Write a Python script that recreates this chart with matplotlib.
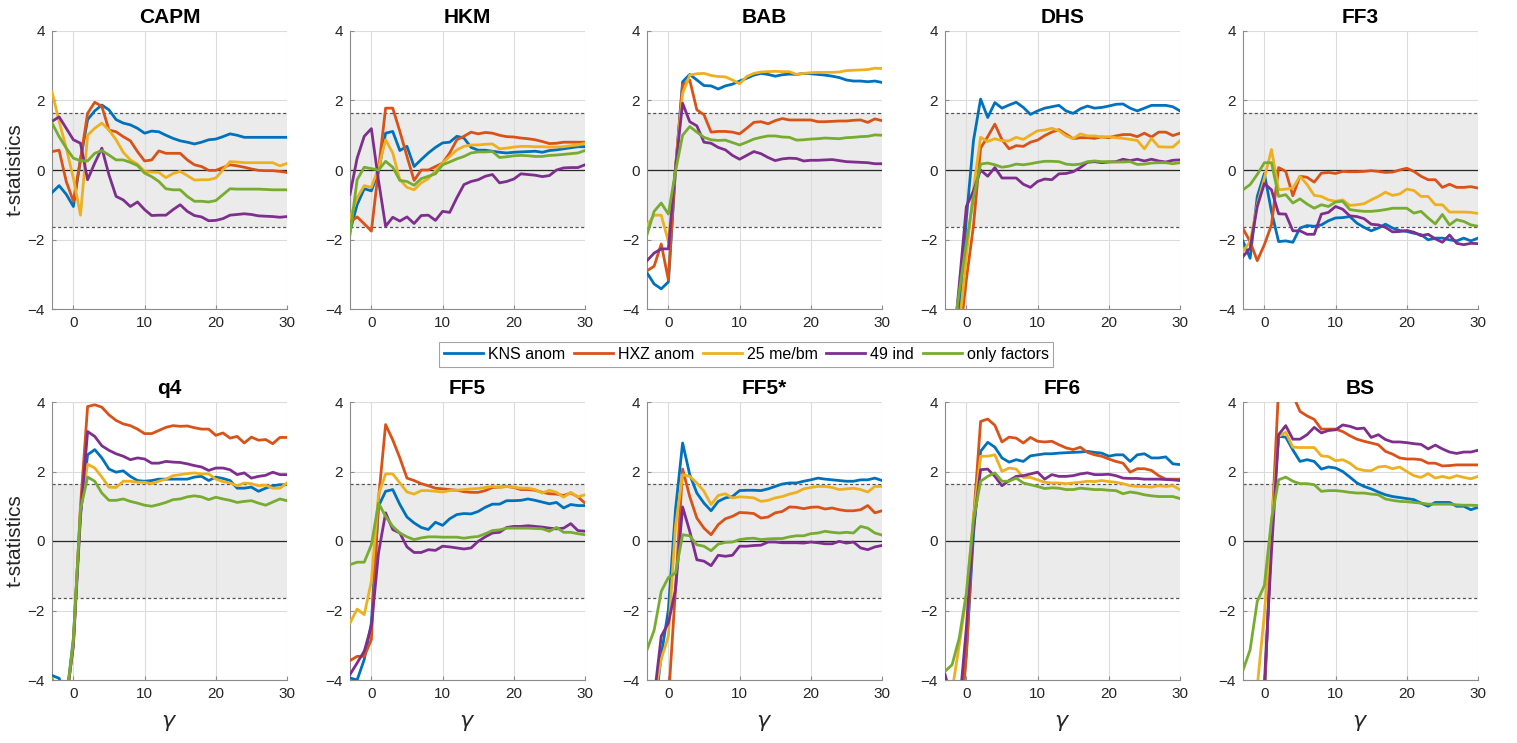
# -*- coding: utf-8 -*-
"""
t-statistics across gamma for ten factor models, five test-asset sets each.
Shaded band = +/-1.645 (10% two-sided).
"""

import numpy as np
import matplotlib
matplotlib.use("Agg")
import matplotlib.pyplot as plt

plt.rcParams['font.family'] = ['Liberation Sans', 'DejaVu Sans']

gamma = list(range(-3, 31))

series_names = ["KNS anom", "HXZ anom", "25 me/bm", "49 ind", "only factors"]
colors = ["#0072BD", "#D95319", "#EDB120", "#7E2F8E", "#77AC30"]
panel_titles = ["CAPM", "HKM", "BAB", "DHS", "FF3", "q4", "FF5", "FF5*", "FF6", "BS"]

# ---- CAPM
capm_kns = [-0.65, -0.45, -0.7, -1.05, 0.3, 1.45, 1.7, 1.87, 1.73, 1.45, 1.35, 1.3, 1.2, 1.06,
            1.12, 1.1, 1.0, 0.91, 0.84, 0.8, 0.75, 0.8, 0.87, 0.89, 0.96, 1.04, 1.0, 0.94,
            0.94, 0.94, 0.94, 0.94, 0.94, 0.94]
capm_hxz = [0.53, 0.57, -0.33, -0.9, 0.3, 1.63, 1.95, 1.83, 1.15, 1.1, 0.96, 0.84, 0.53, 0.26,
            0.29, 0.55, 0.48, 0.48, 0.48, 0.29, 0.15, 0.1, -0.01, -0.01, 0.07, 0.15, 0.12, 0.08,
            0.03, -0.01, -0.02, -0.02, -0.04, -0.07]
capm_mebm = [2.25, 1.4, 0.63, -0.23, -1.3, 1.0, 1.2, 1.35, 1.15, 0.87, 0.51, 0.29, 0.17, -0.04,
             -0.06, -0.07, -0.22, -0.1, -0.04, -0.16, -0.29, -0.28, -0.28, -0.23, 0.0, 0.24,
             0.23, 0.21, 0.21, 0.21, 0.21, 0.21, 0.12, 0.19]
capm_ind = [1.4, 1.53, 1.2, 0.87, 0.77, -0.28, 0.2, 0.63, -0.14, -0.76, -0.86, -1.05, -0.92,
            -1.14, -1.31, -1.3, -1.3, -1.14, -1.0, -1.19, -1.31, -1.35, -1.46, -1.45, -1.4,
            -1.3, -1.28, -1.26, -1.28, -1.32, -1.33, -1.34, -1.36, -1.34]
capm_fac = [1.35, 0.96, 0.63, 0.34, 0.27, 0.26, 0.48, 0.56, 0.43, 0.29, 0.29, 0.22, 0.13, -0.09,
            -0.19, -0.33, -0.54, -0.57, -0.57, -0.76, -0.9, -0.9, -0.92, -0.88, -0.71, -0.54,
            -0.55, -0.55, -0.55, -0.55, -0.56, -0.57, -0.57, -0.57]

# ---- HKM
hkm_kns = [-1.76, -1.0, -0.54, -0.6, -0.04, 1.06, 1.11, 0.56, 0.68, 0.1, 0.3, 0.49, 0.65, 0.78,
           0.8, 0.97, 0.92, 0.65, 0.57, 0.57, 0.54, 0.51, 0.49, 0.51, 0.52, 0.53, 0.54, 0.51,
           0.56, 0.58, 0.61, 0.64, 0.67, 0.67]
hkm_hxz = [-1.5, -1.35, -1.55, -1.76, 0.0, 1.78, 1.78, 1.11, 0.39, -0.3, 0.0, 0.0, 0.1, 0.2,
           0.49, 0.87, 0.97, 1.09, 1.04, 1.08, 1.06, 1.0, 0.96, 0.95, 0.92, 0.9, 0.87, 0.82,
           0.76, 0.77, 0.8, 0.8, 0.8, 0.8]
hkm_mebm = [-1.38, -0.8, -0.45, -0.5, 0.06, 0.87, 0.49, -0.28, -0.5, -0.57, -0.37, -0.25, -0.02,
            0.2, 0.39, 0.58, 0.68, 0.72, 0.72, 0.74, 0.75, 0.61, 0.63, 0.66, 0.68, 0.68, 0.67,
            0.67, 0.66, 0.66, 0.67, 0.7, 0.72, 0.77]
hkm_ind = [-0.7, 0.34, 0.97, 1.19, -0.3, -1.62, -1.36, -1.47, -1.35, -1.54, -1.31, -1.3, -1.45,
           -1.19, -1.22, -0.8, -0.42, -0.33, -0.28, -0.18, -0.13, -0.37, -0.33, -0.26, -0.11,
           -0.13, -0.15, -0.19, -0.16, 0.0, 0.06, 0.07, 0.07, 0.15]
hkm_fac = [-1.86, -0.28, 0.08, 0.04, 0.0, 0.25, 0.08, -0.3, -0.33, -0.44, -0.25, -0.18, -0.11,
           0.15, 0.23, 0.32, 0.39, 0.49, 0.52, 0.52, 0.53, 0.36, 0.38, 0.41, 0.42, 0.41, 0.39,
           0.39, 0.42, 0.43, 0.45, 0.47, 0.49, 0.56]

# ---- BAB
bab_kns = [-2.96, -3.28, -3.42, -3.22, 0.0, 2.54, 2.75, 2.59, 2.43, 2.42, 2.33, 2.42, 2.47, 2.56,
           2.64, 2.73, 2.78, 2.75, 2.7, 2.74, 2.76, 2.75, 2.78, 2.77, 2.75, 2.73, 2.7, 2.66,
           2.59, 2.56, 2.56, 2.54, 2.56, 2.52]
bab_hxz = [-2.9, -2.77, -2.13, -3.16, 0.05, 2.45, 2.59, 1.73, 1.59, 1.09, 1.11, 1.11, 1.09, 1.04,
           1.2, 1.37, 1.39, 1.33, 1.42, 1.48, 1.44, 1.44, 1.44, 1.44, 1.39, 1.39, 1.4, 1.41,
           1.41, 1.43, 1.44, 1.37, 1.47, 1.42]
bab_mebm = [-1.6, -1.3, -1.3, -2.06, 0.05, 2.2, 2.73, 2.77, 2.78, 2.72, 2.69, 2.68, 2.59, 2.48,
            2.69, 2.78, 2.82, 2.83, 2.84, 2.83, 2.83, 2.75, 2.78, 2.8, 2.81, 2.81, 2.81, 2.82,
            2.86, 2.87, 2.88, 2.89, 2.93, 2.92]
bab_ind = [-2.61, -2.39, -2.27, -2.27, 0.05, 1.92, 1.39, 1.27, 0.8, 0.77, 0.65, 0.58, 0.42, 0.31,
           0.42, 0.53, 0.47, 0.36, 0.27, 0.32, 0.34, 0.33, 0.26, 0.28, 0.28, 0.29, 0.3, 0.27,
           0.24, 0.23, 0.22, 0.21, 0.18, 0.18]
bab_fac = [-1.86, -1.19, -0.95, -1.27, -0.04, 1.0, 1.25, 1.09, 0.94, 0.87, 0.85, 0.86, 0.79, 0.72,
           0.8, 0.89, 0.94, 0.98, 0.98, 0.95, 0.94, 0.86, 0.87, 0.89, 0.9, 0.92, 0.91, 0.9,
           0.93, 0.94, 0.96, 0.97, 1.01, 1.0]

# ---- DHS
dhs_kns = [-6.5, -5.5, -4.2, -1.4, 0.85, 2.04, 1.51, 1.94, 1.78, 1.87, 1.95, 1.8, 1.6, 1.7,
           1.78, 1.82, 1.86, 1.7, 1.63, 1.76, 1.84, 1.78, 1.8, 1.84, 1.89, 1.9, 1.78, 1.7,
           1.78, 1.86, 1.86, 1.86, 1.82, 1.7]
dhs_hxz = [-7.5, -6.5, -4.96, -3.15, -1.6, 0.63, 0.96, 1.32, 0.87, 0.61, 0.7, 0.68, 0.8, 0.86,
           0.99, 1.09, 1.16, 1.03, 0.9, 0.93, 0.93, 0.91, 0.95, 0.93, 0.98, 1.02, 1.02, 0.96,
           1.06, 0.95, 1.09, 1.09, 0.99, 1.06]
dhs_mebm = [-7.0, -6.0, -4.5, -2.5, -0.55, 0.94, 0.82, 0.9, 0.84, 0.84, 0.94, 0.88, 1.01, 1.13,
            1.15, 1.2, 1.13, 0.98, 0.9, 1.04, 0.98, 0.98, 0.95, 0.96, 0.93, 0.91, 0.88, 0.85,
            0.61, 0.91, 0.67, 0.66, 0.66, 0.84]
dhs_ind = [-7.0, -5.5, -3.3, -1.05, -0.6, 0.0, -0.18, 0.07, -0.23, -0.23, -0.23, -0.41, -0.5,
           -0.33, -0.26, -0.28, -0.11, -0.1, -0.05, 0.07, 0.22, 0.24, 0.21, 0.23, 0.24, 0.31,
           0.27, 0.31, 0.26, 0.31, 0.26, 0.23, 0.28, 0.29]
dhs_fac = [-7.0, -5.0, -3.5, -2.1, -0.8, 0.17, 0.2, 0.15, 0.08, 0.11, 0.17, 0.15, 0.18, 0.22,
           0.25, 0.25, 0.24, 0.17, 0.15, 0.17, 0.24, 0.26, 0.24, 0.24, 0.23, 0.23, 0.24, 0.16,
           0.17, 0.2, 0.21, 0.21, 0.18, 0.21]

# ---- FF3
ff3_kns = [-2.05, -2.54, -0.76, -0.1, -1.2, -2.06, -2.04, -2.08, -1.67, -1.6, -1.62, -1.58, -1.46,
           -1.38, -1.37, -1.34, -1.53, -1.65, -1.75, -1.67, -1.56, -1.67, -1.74, -1.77, -1.82,
           -1.86, -2.01, -1.96, -1.96, -2.01, -2.04, -1.96, -2.04, -1.96]
ff3_hxz = [-1.69, -2.06, -2.61, -2.15, -1.58, 0.07, -0.04, -0.74, -0.18, -0.21, -0.35, -0.09,
           -0.07, -0.1, -0.04, -0.05, -0.05, -0.04, -0.02, -0.04, -0.07, -0.06, 0.0, 0.05,
           -0.04, -0.18, -0.28, -0.28, -0.5, -0.41, -0.5, -0.5, -0.48, -0.52]
ff3_mebm = [-2.34, -2.06, -1.0, -0.23, 0.59, -0.57, -0.55, -0.52, -0.18, -0.42, -0.73, -0.76,
            -0.86, -0.9, -0.86, -1.02, -1.0, -0.97, -0.86, -0.76, -0.64, -0.73, -0.69, -0.55,
            -0.59, -0.76, -0.76, -1.0, -1.0, -1.21, -1.21, -1.21, -1.22, -1.25]
ff3_ind = [-2.49, -2.25, -1.05, -0.39, -0.57, -1.26, -1.27, -1.75, -1.75, -1.85, -1.85, -1.27,
           -1.22, -1.05, -1.13, -1.32, -1.34, -1.4, -1.56, -1.58, -1.65, -1.78, -1.77, -1.74,
           -1.79, -1.89, -1.85, -1.98, -2.08, -1.87, -2.11, -2.15, -2.11, -2.12]
ff3_fac = [-0.57, -0.42, -0.13, 0.21, 0.21, -0.76, -0.71, -0.95, -0.83, -0.98, -1.1, -1.0, -1.05,
           -0.92, -0.9, -1.14, -1.17, -1.19, -1.19, -1.17, -1.14, -1.1, -1.1, -1.1, -1.24,
           -1.19, -1.38, -1.55, -1.28, -1.58, -1.43, -1.48, -1.58, -1.62]

# ---- q4
q4_kns = [-3.87, -3.95, -4.6, -2.8, 0.8, 2.48, 2.63, 2.39, 2.07, 1.98, 2.02, 1.86, 1.74, 1.72,
          1.74, 1.78, 1.78, 1.78, 1.78, 1.78, 1.84, 1.86, 1.74, 1.84, 1.8, 1.74, 1.52, 1.52,
          1.55, 1.43, 1.52, 1.59, 1.62, 1.62]
q4_hxz = [-6.0, -5.5, -4.6, -3.0, 1.0, 3.87, 3.92, 3.85, 3.63, 3.47, 3.37, 3.32, 3.22, 3.09,
          3.09, 3.18, 3.27, 3.32, 3.3, 3.31, 3.26, 3.22, 3.22, 3.04, 3.11, 2.96, 3.01, 2.82,
          2.99, 2.9, 2.92, 2.8, 2.98, 2.98]
q4_mebm = [-6.0, -5.5, -4.6, -2.9, 0.9, 2.21, 2.1, 1.84, 1.55, 1.54, 1.72, 1.72, 1.69, 1.69,
           1.65, 1.72, 1.78, 1.88, 1.91, 1.94, 1.96, 1.93, 1.93, 1.78, 1.71, 1.67, 1.59, 1.67,
           1.65, 1.59, 1.61, 1.52, 1.52, 1.67]
q4_ind = [-6.0, -5.5, -4.6, -3.0, 0.7, 3.15, 3.01, 2.74, 2.61, 2.51, 2.44, 2.34, 2.39, 2.36,
          2.24, 2.24, 2.29, 2.27, 2.26, 2.22, 2.17, 2.13, 2.03, 2.1, 2.1, 2.05, 1.91, 1.96,
          1.81, 1.86, 1.89, 1.98, 1.91, 1.91]
q4_fac = [-3.95, -4.5, -4.6, -2.9, 0.9, 1.84, 1.72, 1.38, 1.17, 1.17, 1.21, 1.14, 1.09, 1.03,
          1.0, 1.05, 1.11, 1.19, 1.21, 1.27, 1.3, 1.27, 1.19, 1.26, 1.21, 1.17, 1.11, 1.14,
          1.16, 1.09, 1.03, 1.12, 1.21, 1.16]

# ---- FF5
ff5_kns = [-3.94, -4.0, -3.41, -2.36, 1.0, 1.43, 1.48, 1.05, 0.69, 0.52, 0.39, 0.33, 0.54, 0.45,
           0.64, 0.76, 0.79, 0.78, 0.85, 0.97, 1.06, 1.06, 1.16, 1.16, 1.17, 1.21, 1.17, 1.12,
           1.07, 1.11, 0.95, 1.05, 1.02, 1.02]
ff5_hxz = [-3.44, -3.32, -3.32, -2.84, 1.2, 3.35, 2.91, 2.39, 1.81, 1.74, 1.65, 1.59, 1.52, 1.5,
           1.48, 1.46, 1.42, 1.4, 1.4, 1.45, 1.54, 1.55, 1.57, 1.54, 1.48, 1.48, 1.46, 1.4,
           1.36, 1.35, 1.31, 1.38, 1.27, 1.09]
ff5_mebm = [-2.36, -1.96, -2.12, -1.16, 1.33, 1.93, 1.93, 1.67, 1.41, 1.35, 1.45, 1.45, 1.43,
            1.41, 1.45, 1.46, 1.48, 1.5, 1.51, 1.54, 1.57, 1.54, 1.57, 1.55, 1.52, 1.52, 1.48,
            1.38, 1.46, 1.4, 1.26, 1.4, 1.27, 1.33]
ff5_ind = [-3.84, -3.51, -3.17, -2.45, -0.35, 0.81, 0.33, 0.23, -0.17, -0.33, -0.33, -0.25, -0.27,
           -0.15, -0.17, -0.2, -0.23, -0.2, -0.01, 0.12, 0.23, 0.25, 0.39, 0.42, 0.42, 0.44,
           0.42, 0.4, 0.37, 0.35, 0.37, 0.5, 0.3, 0.28]
ff5_fac = [-0.68, -0.61, -0.61, -0.11, 1.09, 0.71, 0.42, 0.23, 0.12, 0.04, 0.09, 0.12, 0.12, 0.11,
           0.11, 0.11, 0.08, 0.11, 0.13, 0.21, 0.3, 0.32, 0.37, 0.37, 0.37, 0.37, 0.36, 0.35,
           0.28, 0.39, 0.25, 0.25, 0.21, 0.18]

# ---- FF5*
ff5s_kns = [-6.0, -5.0, -3.3, -1.98, 0.9, 2.82, 1.91, 1.38, 1.09, 0.87, 1.14, 1.24, 1.28, 1.45,
            1.46, 1.46, 1.45, 1.5, 1.57, 1.64, 1.67, 1.67, 1.72, 1.76, 1.81, 1.78, 1.76, 1.74,
            1.72, 1.72, 1.76, 1.76, 1.81, 1.74]
ff5s_hxz = [-7.0, -6.5, -6.0, -4.6, -1.4, 2.07, 1.28, 0.66, 0.37, 0.18, 0.47, 0.64, 0.71, 0.82,
            0.81, 0.79, 0.66, 0.69, 0.81, 0.85, 0.98, 0.97, 0.93, 0.97, 0.98, 0.92, 0.95, 0.9,
            0.87, 0.87, 0.9, 1.02, 0.81, 0.87]
ff5s_mebm = [-6.0, -4.5, -3.4, -2.74, 0.42, 1.91, 1.86, 1.67, 1.43, 1.05, 1.31, 1.36, 1.24, 1.27,
             1.26, 1.24, 1.14, 1.17, 1.24, 1.28, 1.35, 1.4, 1.5, 1.54, 1.57, 1.57, 1.54, 1.48,
             1.5, 1.52, 1.48, 1.41, 1.57, 1.57]
ff5s_ind = [-6.0, -4.5, -2.74, -2.36, -1.4, 0.98, 0.28, -0.54, -0.58, -0.71, -0.41, -0.44, -0.41,
            -0.15, -0.15, -0.13, -0.12, -0.03, -0.03, -0.05, -0.05, -0.05, -0.06, -0.03, -0.05,
            -0.08, -0.08, -0.01, -0.06, -0.03, -0.2, -0.25, -0.17, -0.13]
ff5s_fac = [-3.13, -2.57, -1.45, -1.05, -0.92, 0.18, 0.15, -0.11, -0.15, -0.28, -0.09, -0.04,
            -0.03, 0.04, 0.07, 0.08, 0.04, 0.06, 0.07, 0.07, 0.12, 0.15, 0.15, 0.21, 0.23, 0.28,
            0.25, 0.23, 0.25, 0.23, 0.42, 0.37, 0.23, 0.17]

# ---- FF6
ff6_kns = [-7.0, -6.0, -5.5, -3.2, 0.2, 2.58, 2.84, 2.7, 2.39, 2.27, 2.34, 2.29, 2.45, 2.48,
           2.51, 2.51, 2.53, 2.54, 2.55, 2.56, 2.58, 2.55, 2.53, 2.44, 2.48, 2.48, 2.29, 2.48,
           2.51, 2.39, 2.39, 2.42, 2.22, 2.2]
ff6_hxz = [-7.0, -6.0, -5.5, -3.3, 0.6, 3.44, 3.51, 3.33, 2.85, 2.99, 2.96, 2.82, 2.98, 2.87,
           2.85, 2.87, 2.77, 2.68, 2.63, 2.7, 2.55, 2.48, 2.44, 2.36, 2.29, 2.24, 1.98, 2.08,
           2.08, 2.03, 1.88, 1.78, 1.78, 1.78]
ff6_mebm = [-6.0, -4.3, -3.0, -1.6, 0.7, 2.44, 2.44, 2.48, 2.0, 2.1, 2.07, 1.83, 1.83, 1.76,
            1.69, 1.67, 1.67, 1.65, 1.67, 1.69, 1.72, 1.71, 1.74, 1.71, 1.69, 1.65, 1.59, 1.57,
            1.57, 1.55, 1.59, 1.57, 1.59, 1.48]
ff6_ind = [-3.84, -4.6, -4.8, -2.5, 0.4, 2.05, 2.07, 1.86, 1.59, 1.74, 1.86, 1.88, 1.93, 1.98,
           1.78, 1.91, 1.86, 1.86, 1.88, 1.93, 1.96, 1.91, 1.91, 1.92, 1.88, 1.81, 1.8, 1.8,
           1.78, 1.78, 1.78, 1.77, 1.76, 1.74]
ff6_fac = [-3.75, -3.56, -2.79, -1.5, 0.61, 1.72, 1.86, 1.96, 1.72, 1.72, 1.81, 1.67, 1.62, 1.57,
           1.51, 1.53, 1.52, 1.48, 1.48, 1.52, 1.5, 1.48, 1.48, 1.46, 1.45, 1.36, 1.41, 1.38,
           1.33, 1.3, 1.28, 1.28, 1.28, 1.22]

# ---- BS
bs_kns = [-8.0, -7.0, -6.0, -4.5, 0.3, 3.01, 2.99, 2.62, 2.29, 2.34, 2.29, 2.07, 2.13, 2.1,
          2.0, 1.84, 1.67, 1.57, 1.5, 1.41, 1.33, 1.28, 1.25, 1.22, 1.19, 1.09, 1.0, 1.11,
          1.11, 1.11, 1.0, 1.0, 0.9, 0.97]
bs_hxz = [-8.0, -7.0, -6.0, -4.5, 0.2, 4.4, 4.6, 4.2, 3.73, 3.6, 3.5, 3.22, 3.22, 3.22,
          3.15, 3.03, 2.93, 2.87, 2.82, 2.77, 2.58, 2.5, 2.39, 2.36, 2.36, 2.34, 2.24, 2.24,
          2.16, 2.17, 2.19, 2.19, 2.19, 2.19]
bs_mebm = [-7.0, -6.0, -4.2, -2.1, 0.5, 3.01, 3.13, 2.7, 2.69, 2.69, 2.69, 2.45, 2.43, 2.31,
           2.34, 2.24, 2.08, 2.03, 2.02, 2.13, 2.15, 2.08, 2.13, 2.0, 1.88, 1.83, 1.94, 1.81,
           1.86, 1.81, 1.88, 1.83, 1.79, 1.86]
bs_ind = [-8.0, -7.0, -6.0, -4.1, -0.3, 3.06, 3.32, 2.93, 2.93, 3.06, 3.27, 3.11, 3.18, 3.2,
          3.34, 3.3, 3.23, 3.25, 2.98, 3.06, 2.92, 2.85, 2.85, 2.83, 2.8, 2.78, 2.65, 2.76,
          2.65, 2.56, 2.52, 2.56, 2.56, 2.61]
bs_fac = [-3.72, -3.13, -1.74, -1.28, 0.61, 1.76, 1.84, 1.72, 1.65, 1.65, 1.62, 1.43, 1.45, 1.45,
          1.43, 1.4, 1.38, 1.38, 1.35, 1.33, 1.21, 1.17, 1.14, 1.13, 1.11, 1.09, 1.06, 1.06,
          1.06, 1.06, 1.04, 1.03, 1.03, 1.02]

panels = [
    [capm_kns, capm_hxz, capm_mebm, capm_ind, capm_fac],
    [hkm_kns, hkm_hxz, hkm_mebm, hkm_ind, hkm_fac],
    [bab_kns, bab_hxz, bab_mebm, bab_ind, bab_fac],
    [dhs_kns, dhs_hxz, dhs_mebm, dhs_ind, dhs_fac],
    [ff3_kns, ff3_hxz, ff3_mebm, ff3_ind, ff3_fac],
    [q4_kns, q4_hxz, q4_mebm, q4_ind, q4_fac],
    [ff5_kns, ff5_hxz, ff5_mebm, ff5_ind, ff5_fac],
    [ff5s_kns, ff5s_hxz, ff5s_mebm, ff5s_ind, ff5s_fac],
    [ff6_kns, ff6_hxz, ff6_mebm, ff6_ind, ff6_fac],
    [bs_kns, bs_hxz, bs_mebm, bs_ind, bs_fac],
]

CRIT = 1.645
W, H = 1517, 743

fig = plt.figure(figsize=(W / 100, H / 100), dpi=100)

# axes placement in pixels (left edge of each column, top of each row)
col_left = [52, 350, 647, 945, 1243]
row_top = [31, 402]
ax_w, ax_h = 235, 278

handles = None
for k, (title, data) in enumerate(zip(panel_titles, panels)):
    r, c = divmod(k, 5)
    ax = fig.add_axes([col_left[c] / W, 1 - (row_top[r] + ax_h) / H, ax_w / W, ax_h / H])

    ax.axhspan(-CRIT, CRIT, color='#ebebeb', zorder=0, lw=0)
    for yy in (-CRIT, CRIT):
        ax.axhline(yy, color='#555555', lw=0.9, ls=(0, (2.5, 2)), zorder=1)
    ax.axhline(0, color='#262626', lw=0.9, zorder=1)

    lines = []
    for vals, col, name in zip(data, colors, series_names):
        ln, = ax.plot(gamma, vals, color=col, lw=2, label=name, zorder=3)
        lines.append(ln)
    handles = lines

    ax.set_xlim(-3, 30)
    ax.set_ylim(-4, 4)
    ax.set_xticks([0, 10, 20, 30])
    ax.set_yticks([-4, -2, 0, 2, 4])
    ax.grid(True, color='#dcdcdc', lw=0.8)
    ax.set_axisbelow(True)
    for s in ('top', 'right'):
        ax.spines[s].set_visible(False)
    for s in ('left', 'bottom'):
        ax.spines[s].set_color('#8c8c8c')
        ax.spines[s].set_linewidth(0.8)
    ax.tick_params(direction='in', length=3, labelsize=11, colors='#8c8c8c',
                   labelcolor='#262626', pad=5)
    ax.set_title(title, fontsize=15, fontweight='bold', pad=6, color='black')

    if c == 0:
        ax.set_ylabel('t-statistics', fontsize=15, color='#262626', labelpad=2)
    if r == 1:
        ax.set_xlabel(r'$\gamma$', fontsize=16, color='#262626', labelpad=8)

# shared legend between the rows; left edge of its box sits at x ~ 439 px
leg = fig.legend(handles, series_names, loc='center left', bbox_to_anchor=(439 / W, 1 - 354.5 / H),
                 ncol=5, fontsize=11.5, frameon=True, fancybox=False, handlelength=2.45,
                 handletextpad=0.3, columnspacing=0.55, borderpad=0.3, borderaxespad=0)
leg.get_frame().set_edgecolor('#8c8c8c')
leg.get_frame().set_linewidth(0.8)

plt.savefig('out.png', dpi=100)
